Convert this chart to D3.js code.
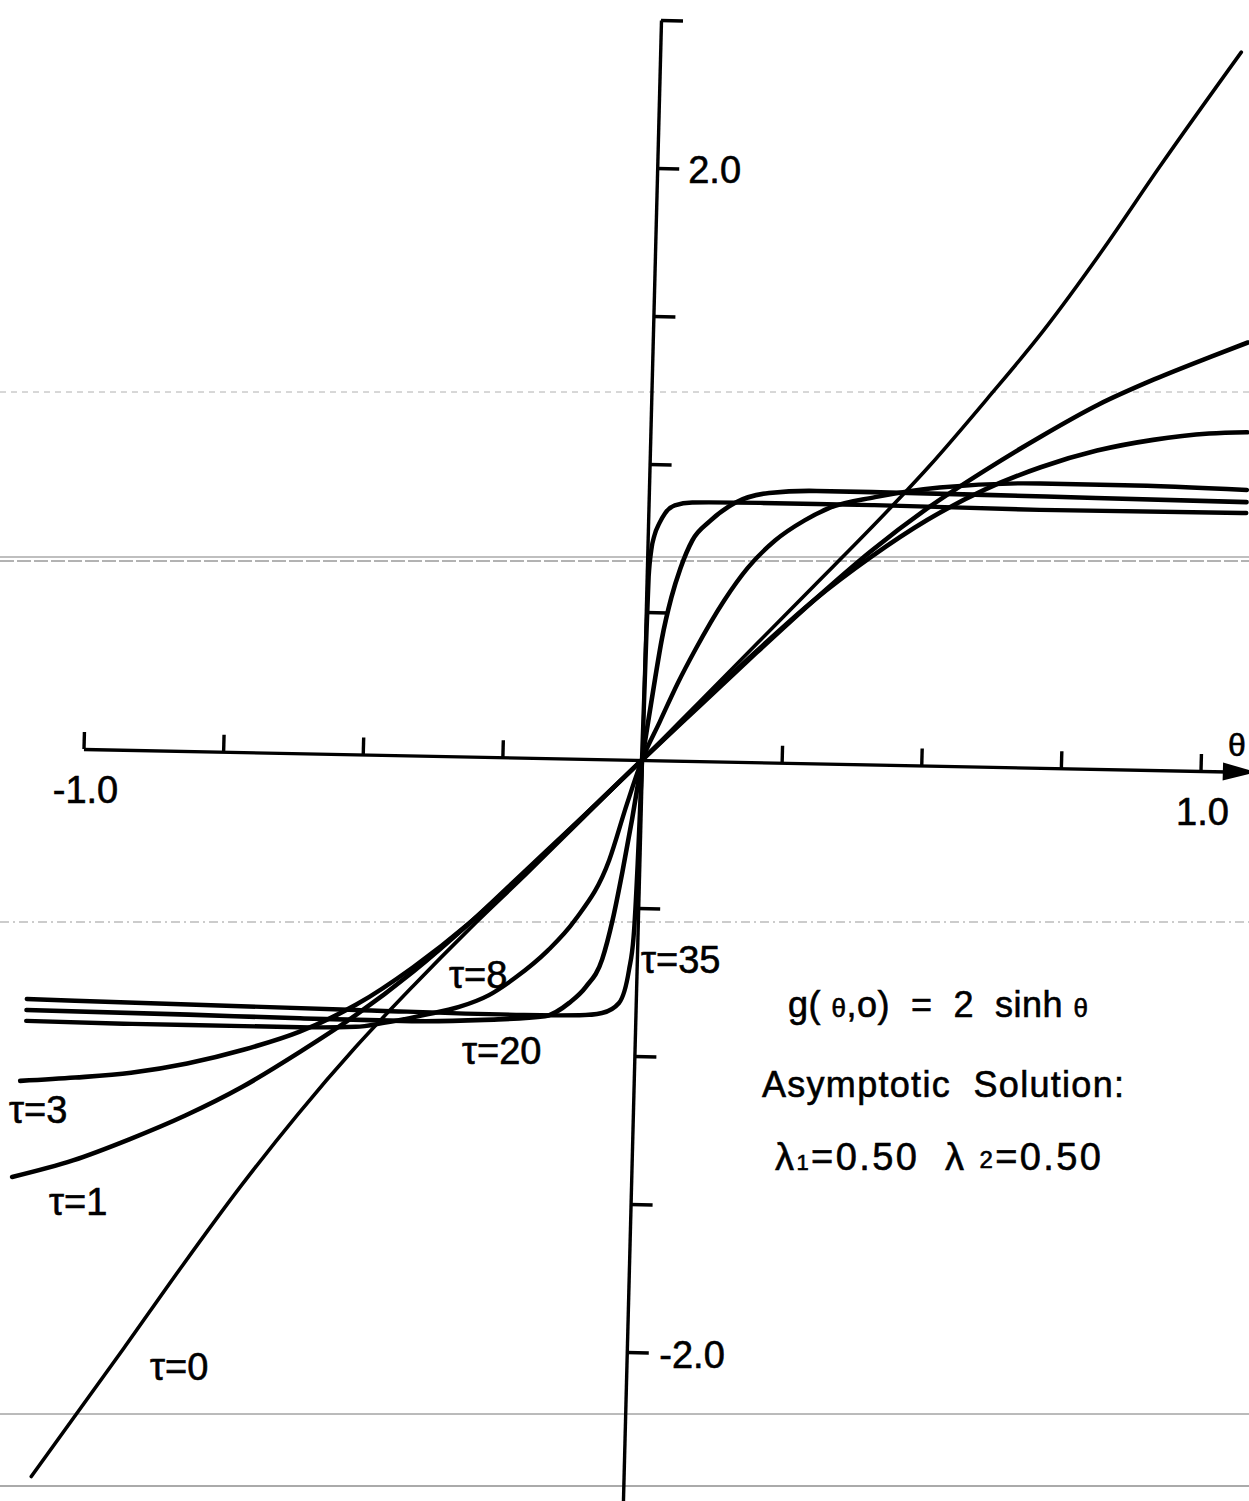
<!DOCTYPE html>
<meta charset="utf-8">
<style>

body {
  margin: 0;
  background: #fff;
}

svg {
  font-family: "Liberation Sans", Arial, sans-serif;
}

text {
  white-space: pre;
}

</style>
<body>
<script src="https://d3js.org/d3.v7.min.js"></script>
<script>

// values: theta, g(theta, tau)
var theta0 = [-1.06, -0.9, -0.8, -0.7, -0.6, -0.5, -0.4, -0.3, -0.2, -0.1, 0, 0.1, 0.2, 0.3, 0.4, 0.5, 0.6, 0.7, 0.8, 0.9, 1.04],
    g0     = [-2.46, -2.02, -1.74, -1.47, -1.22, -0.99, -0.78, -0.58, -0.39, -0.195, 0, 0.2, 0.4, 0.6, 0.8, 1.01, 1.24, 1.48, 1.75, 2.04, 2.43];

var theta1 = [-1.108, -1.0, -0.9, -0.8, -0.7, -0.6, -0.5, -0.4, -0.3, -0.2, -0.1, 0, 0.1, 0.2, 0.3, 0.4, 0.5, 0.6, 0.7, 0.8, 0.9, 1.0, 1.065],
    g1     = [-1.45, -1.39, -1.315, -1.23, -1.13, -1.01, -0.88, -0.73, -0.56, -0.375, -0.19, 0, 0.185, 0.37, 0.55, 0.72, 0.87, 1.0, 1.12, 1.23, 1.32, 1.40, 1.45];

var theta3 = [-1.098, -1.0, -0.9, -0.8, -0.7, -0.6, -0.5, -0.4, -0.3, -0.2, -0.1, 0, 0.1, 0.2, 0.3, 0.4, 0.5, 0.6, 0.7, 0.8, 0.9, 1.0, 1.068],
    g3     = [-1.125, -1.11, -1.09, -1.055, -1.005, -0.94, -0.845, -0.715, -0.56, -0.38, -0.19, 0, 0.19, 0.375, 0.55, 0.70, 0.83, 0.935, 1.015, 1.075, 1.115, 1.14, 1.147];

var theta8 = [-1.09, -0.9, -0.7, -0.6, -0.5, -0.45, -0.377, -0.316, -0.263, -0.217, -0.16, -0.1125, -0.054, -0.025, 0, 0.03, 0.06, 0.09, 0.14, 0.18, 0.228, 0.28, 0.323, 0.405, 0.52, 0.7, 0.85, 1.07],
    g8     = [-0.922, -0.925, -0.925, -0.925, -0.92, -0.905, -0.875, -0.846, -0.804, -0.744, -0.65, -0.545, -0.34, -0.15, 0, 0.13, 0.26, 0.375, 0.545, 0.655, 0.75, 0.82, 0.863, 0.903, 0.94, 0.96, 0.96, 0.952];

var theta20 = [-1.09, -0.8, -0.6, -0.4, -0.27, -0.162, -0.119, -0.09, -0.062, -0.045, -0.03, -0.015, 0, 0.01, 0.02, 0.03, 0.045, 0.06, 0.08, 0.11, 0.155, 0.215, 0.3, 0.4, 0.6, 0.8, 1.07],
    g20     = [-0.885, -0.89, -0.895, -0.897, -0.888, -0.872, -0.825, -0.77, -0.675, -0.54, -0.38, -0.2, 0, 0.14, 0.28, 0.41, 0.55, 0.65, 0.745, 0.81, 0.875, 0.91, 0.92, 0.92, 0.918, 0.915, 0.911];

var theta35 = [-1.09, -0.8, -0.5, -0.2, -0.1, -0.06, -0.03, -0.0136, -0.007, -0.003, -0.0015, 0, 0.001, 0.002, 0.0035, 0.007, 0.012, 0.02, 0.03, 0.047, 0.078, 0.2, 0.4, 0.7, 1.07],
    g35     = [-0.848, -0.856, -0.863, -0.869, -0.866, -0.857, -0.822, -0.71, -0.6, -0.35, -0.2, 0, 0.2, 0.4, 0.62, 0.71, 0.76, 0.80, 0.835, 0.862, 0.873, 0.876, 0.876, 0.871, 0.874];

var xTicks = [-1, -0.75, -0.5, -0.25, 0.25, 0.5, 0.75, 1],
    yTicks = [-2, -1.5, -1, -0.5, 0.5, 1, 1.5, 2, 2.5];

var xLabels = [{v: -1, text: "-1.0"}, {v: 1, text: "1.0"}],
    yLabels = [{v: 2, text: "2.0"}, {v: -2, text: "-2.0"}];

</script>
<script>

var width = 1249,
    height = 1501,
    ox = 642,
    oy = 760,
    skewB = 0.0197,   // the scan is slightly rotated / sheared
    skewC = -0.0257;

var x = d3.scaleLinear().domain([-1, 1.07]).range([-558.5, 597.6]),
    y = d3.scaleLinear().domain([-2.6, 2.5]).range([769.6, -740]);

function project(t, v) {
  var X = x(t), Y = y(v);
  return [ox + X + skewC * Y, oy + skewB * X + Y];
}

var svg = d3.select("body").append("svg")
    .attr("width", width)
    .attr("height", height);

// faint scanner streaks
var streaks = svg.append("g").attr("fill", "none");
[[392, "#b0b0b0", 1, "6,5"], [557, "#aaaaaa", 1.5, null], [561, "#666", 1, "14,3"],
 [922, "#999", 1, "9,4,2,4"], [1414, "#777", 1, null], [1486, "#aaa", 2, null]].forEach(function(s) {
  streaks.append("line")
      .attr("x1", 0).attr("x2", width)
      .attr("y1", s[0]).attr("y2", s[0])
      .attr("stroke", s[1])
      .attr("stroke-width", s[2])
      .attr("stroke-dasharray", s[3]);
});

var plot = svg.append("g")
    .attr("transform", "matrix(1," + skewB + "," + skewC + ",1," + ox + "," + oy + ")");

plot.append("g")
    .call(d3.axisTop(x).tickValues(xTicks).tickSize(17).tickSizeOuter(0).tickFormat(""))
    .call(function(g) { g.selectAll("path, line").attr("stroke", "#000").attr("stroke-width", 3.4); });

plot.append("g")
    .call(d3.axisRight(y).tickValues(yTicks).tickSize(22).tickSizeOuter(0).tickFormat(""))
    .call(function(g) { g.selectAll("path, line").attr("stroke", "#000").attr("stroke-width", 3.4); });

// arrow head on theta axis
plot.append("path")
    .attr("fill", "#000")
    .attr("d", "M" + x(1.04) + ",-9L" + x(1.1) + ",0L" + x(1.04) + ",9Z");

var line = d3.line()
    .x(function(d) { return x(d[0]); })
    .y(function(d) { return y(d[1]); })
    .curve(d3.curveMonotoneX);

var series = [
  {th: theta0, g: g0, w: 3.6},
  {th: theta1, g: g1, w: 4.6},
  {th: theta3, g: g3, w: 4.6},
  {th: theta8, g: g8, w: 4.4},
  {th: theta20, g: g20, w: 4.6},
  {th: theta35, g: g35, w: 4.4}
];

plot.selectAll(".curve")
  .data(series)
  .enter().append("path")
    .attr("class", "curve")
    .attr("fill", "none")
    .attr("stroke", "#000")
    .attr("stroke-width", function(d) { return d.w; })
    .attr("stroke-linejoin", "round")
    .attr("stroke-linecap", "round")
    .attr("d", function(d) { return line(d3.zip(d.th, d.g)); });

// tick labels
var labels = svg.append("g")
    .attr("font-size", 38)
    .attr("fill", "#000")
    .attr("stroke", "#000")
    .attr("stroke-width", 0.6);

yLabels.forEach(function(l) {
  var p = project(0, l.v);
  if (l.v > 0) {
    labels.append("text").attr("x", p[0] + 31).attr("y", p[1] + 15).text(l.text);
  } else {
    labels.append("text").attr("x", p[0] + 98).attr("y", p[1] + 16).attr("text-anchor", "end").text(l.text);
  }
});

xLabels.forEach(function(l) {
  var p = project(l.v, 0);
  labels.append("text")
      .attr("x", p[0] + 2)
      .attr("y", p[1] + 54)
      .attr("text-anchor", "middle")
      .text(l.text);
});

labels.append("text").attr("x", 1228).attr("y", 756).attr("font-size", 32).text("θ");

// curve annotations
var notes = svg.append("g")
    .attr("font-size", 38)
    .attr("fill", "#000")
    .attr("stroke", "#000")
    .attr("stroke-width", 0.6);

[["τ=35", 641, 973], ["τ=8", 449, 988], ["τ=20", 462, 1064],
 ["τ=3", 9, 1123], ["τ=1", 49, 1215], ["τ=0", 150, 1380]].forEach(function(n) {
  notes.append("text").attr("x", n[1]).attr("y", n[2]).text(n[0]);
});

var formula = notes.append("text")
    .attr("x", 788).attr("y", 1017)
    .attr("font-size", 36)
    .attr("textLength", 300).attr("lengthAdjust", "spacing");
formula.append("tspan").text("g( ");
formula.append("tspan").attr("font-size", 26).text("θ");
formula.append("tspan").text(",o)  =  2  sinh ");
formula.append("tspan").attr("font-size", 26).text("θ");

notes.append("text")
    .attr("x", 762).attr("y", 1097)
    .attr("font-size", 36)
    .attr("textLength", 362).attr("lengthAdjust", "spacing")
    .text("Asymptotic  Solution:");

var lam = notes.append("text")
    .attr("x", 775).attr("y", 1170)
    .attr("font-size", 38)
    .attr("textLength", 326).attr("lengthAdjust", "spacing");
lam.append("tspan").text("λ");
lam.append("tspan").attr("font-size", 22).text("1");
lam.append("tspan").text("=0.50  λ ");
lam.append("tspan").attr("font-size", 24).attr("dy", -2).text("2");
lam.append("tspan").attr("dy", 2).text("=0.50");

</script>
